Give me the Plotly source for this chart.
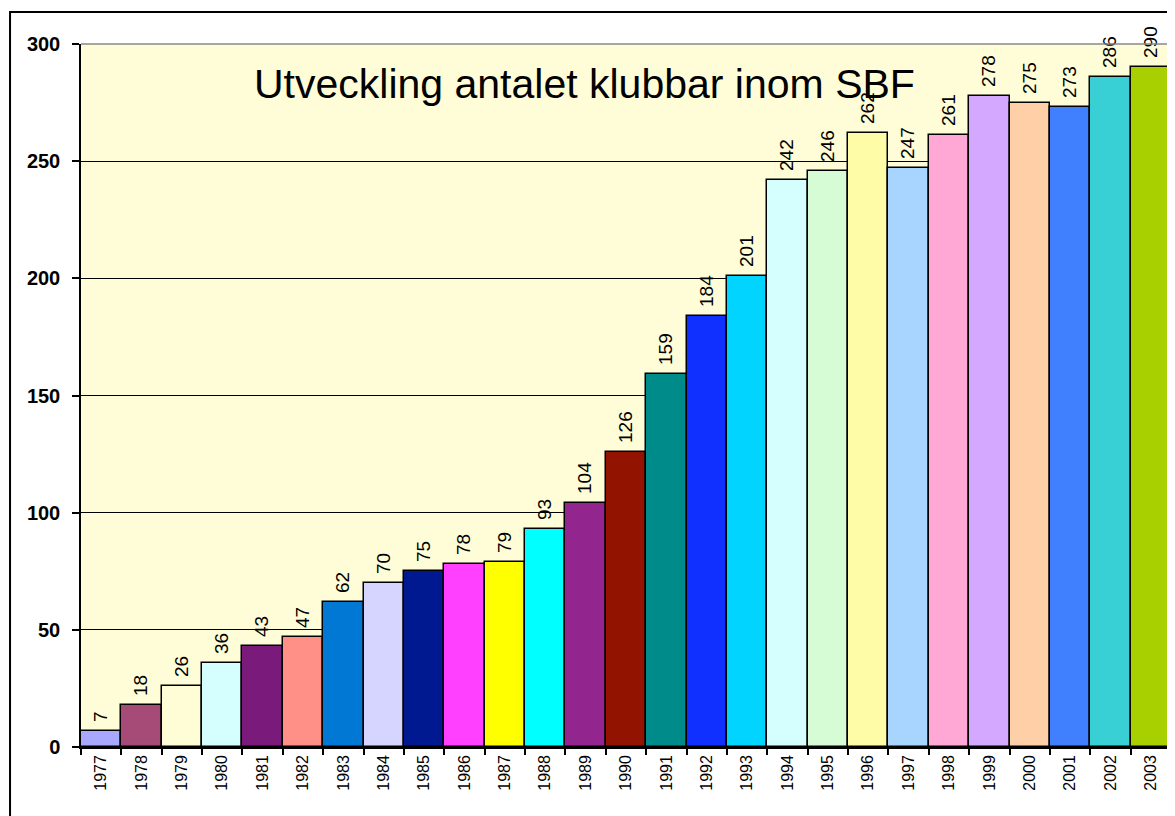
import plotly.graph_objects as go

years = [str(y) for y in range(1977, 2004)]
clubs = [7, 18, 26, 36, 43, 47, 62, 70, 75, 78, 79, 93, 104, 126, 159,
         184, 201, 242, 246, 262, 247, 261, 278, 275, 273, 286, 290]
bar_colors = ["#A8A8FF", "#A64B78", "#FFFDD6", "#D5FFFF", "#7A1A7A", "#FF9088",
              "#0078D4", "#D5D5FF", "#001890", "#FF40FF", "#FFFF00", "#00FFFF",
              "#92268E", "#921400", "#008B8B", "#1030FF", "#00D4FF", "#D5FFFF",
              "#D5FCD5", "#FFFCA8", "#A8D5FF", "#FFA8D5", "#D5A8FF", "#FFD0A8",
              "#4080FF", "#38D0D4", "#A8D000"]
title_text = "Utveckling antalet klubbar inom SBF"
y_ticks = [0, 50, 100, 150, 200, 250, 300]

FONT = "Liberation Sans, Arial, sans-serif"

# page body has an 8px margin, so the figure is offset by (8, 8)
fig = go.Figure()
fig.add_trace(go.Bar(
    x=years, y=clubs,
    marker=dict(color=bar_colors, line=dict(color="black", width=1.5)),
    text=["\u00a0" + str(v) for v in clubs],
    textposition="outside",
    textangle=-90,
    textfont=dict(family=FONT, size=19, color="black"),
    constraintext="none",
    cliponaxis=False,
    hoverinfo="skip",
))

fig.update_layout(
    width=1167, height=808,
    margin=dict(l=73, r=4, t=36, b=69, autoexpand=False),
    paper_bgcolor="white",
    plot_bgcolor="#FFFDD7",
    bargap=0,
    showlegend=False,
    font=dict(family=FONT, color="black"),
    xaxis=dict(
        type="category",
        tickangle=-90,
        tickfont=dict(family=FONT, size=16, color="black"),
        ticks="outside", ticklen=6, tickwidth=1.5, tickcolor="black",
        tickson="boundaries",
        showline=True, linecolor="black", linewidth=1.5,
        showgrid=False,
        range=[-0.5, 26.5],
        automargin=False,
    ),
    yaxis=dict(
        range=[0, 300],
        tickvals=y_ticks,
        tickfont=dict(family="Liberation Sans, Arial", size=20, color="black", weight="bold"),
        ticks="outside", ticklen=7, tickwidth=1.5, tickcolor="black",
        ticklabelstandoff=8,
        showline=True, linecolor="black", linewidth=1.5,
        showgrid=True, gridcolor="black", gridwidth=1,
        zeroline=False,
        automargin=False,
    ),
    annotations=[dict(
        text=title_text, xref="paper", yref="y", x=0.4615, y=283,
        xanchor="center", yanchor="middle", showarrow=False,
        font=dict(family=FONT, size=41, color="black"),
    )],
    shapes=[
        dict(type="line", xref="paper", yref="paper", x0=0, x1=1, y0=1, y1=1,
             line=dict(color="#888888", width=1.5), layer="above"),
        dict(type="line", xref="paper", yref="paper", x0=1, x1=1, y0=0, y1=1,
             line=dict(color="#888888", width=1.5), layer="above"),
        dict(type="rect", xref="paper", yref="paper", x0=-0.0651, x1=1.05,
             y0=-0.25, y1=1.0455, line=dict(color="black", width=2),
             fillcolor="rgba(0,0,0,0)", layer="above"),
    ],
)

fig.write_html("out.html")
